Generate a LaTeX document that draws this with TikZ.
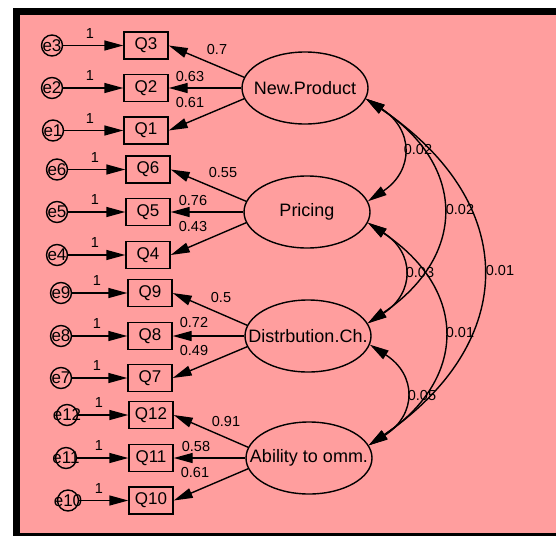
\documentclass[tikz,border=0pt]{standalone}
\usepackage{fontspec}
\setmainfont{Liberation Sans}
\usetikzlibrary{arrows.meta,shapes.geometric}
\definecolor{bgpink}{RGB}{255,158,158}
\begin{document}
\begin{tikzpicture}[x=1pt,y=-1pt,
 lat/.style={ellipse,draw,line width=1.4pt,minimum width=126pt,minimum height=72pt,inner sep=0pt},
 latlab/.style={font=\fontsize{18}{20}\selectfont,inner sep=0pt},
 obs/.style={rectangle,draw,line width=1.4pt,minimum width=44pt,minimum height=27pt,inner sep=0pt,font=\fontsize{17}{19}\selectfont},
 err/.style={circle,draw,line width=1.4pt,minimum size=21pt,inner sep=0pt},
 elab/.style={font=\fontsize{17}{19}\selectfont,inner sep=0pt},
 arr/.style={line width=1.4pt,-{Triangle[length=19pt,width=10pt]}},
 cov/.style={line width=1.4pt,{Triangle[length=19pt,width=10pt]}-{Triangle[length=19pt,width=10pt]}},
 lbl/.style={font=\fontsize{14.5}{16}\selectfont,inner sep=0pt},
 one/.style={font=\fontsize{14.5}{16}\selectfont,inner sep=0pt}]
\useasboundingbox (0,0) rectangle (556,536);
\fill[white] (0,0) rectangle (556,536);
\fill[black] (13,7.5) rectangle (556,536);
\fill[bgpink] (20,15) rectangle (556,533);

% latent variables
\node[lat,label={[latlab]center:New.Product}] (NP) at (305,88) {};
\node[lat,label={[latlab]center:Pricing}] (PR) at (307,212) {};
\node[lat,label={[latlab]center:Distrbution.Ch.}] (DC) at (308,336) {};
\node[lat,label={[latlab]center:Ability to omm.}] (AC) at (309,458) {};

% observed
\node[obs] (Q3) at (146,45.5) {Q3};
\node[obs] (Q2) at (146,88) {Q2};
\node[obs] (Q1) at (146,130.5) {Q1};
\node[obs] (Q6) at (148,169.5) {Q6};
\node[obs] (Q5) at (148,212) {Q5};
\node[obs] (Q4) at (148,255) {Q4};
\node[obs] (Q9) at (150,293) {Q9};
\node[obs] (Q8) at (150,336) {Q8};
\node[obs] (Q7) at (150,378) {Q7};
\node[obs] (Q12) at (151,415) {Q12};
\node[obs] (Q11) at (151,458) {Q11};
\node[obs] (Q10) at (151,500.5) {Q10};

% errors
\node[err,label={[elab]center:e3}] (e3) at (52,45.5) {};
\node[err,label={[elab]center:e2}] (e2) at (52,88) {};
\node[err,label={[elab]center:e1}] (e1) at (53,130.5) {};
\node[err,label={[elab]center:e6}] (e6) at (57,169.5) {};
\node[err,label={[elab]center:e5}] (e5) at (57,212) {};
\node[err,label={[elab]center:e4}] (e4) at (57,255) {};
\node[err,label={[elab]center:e9}] (e9) at (61,293) {};
\node[err,label={[elab]center:e8}] (e8) at (61,336) {};
\node[err,label={[elab]center:e7}] (e7) at (61,378) {};
\node[err,label={[elab]center:e12}] (e12) at (67,415) {};
\node[err,label={[elab]center:e11}] (e11) at (66,458) {};
\node[err,label={[elab]center:e10}] (e10) at (68,500.5) {};

% error arrows
\draw[arr] (e3) -- (Q3) node[one] at (90,33.5) {1};
\draw[arr] (e2) -- (Q2) node[one] at (90,76) {1};
\draw[arr] (e1) -- (Q1) node[one] at (90,118.5) {1};
\draw[arr] (e6) -- (Q6) node[one] at (95,157.5) {1};
\draw[arr] (e5) -- (Q5) node[one] at (95,200) {1};
\draw[arr] (e4) -- (Q4) node[one] at (95,243) {1};
\draw[arr] (e9) -- (Q9) node[one] at (97,281) {1};
\draw[arr] (e8) -- (Q8) node[one] at (97,324) {1};
\draw[arr] (e7) -- (Q7) node[one] at (97,366) {1};
\draw[arr] (e12) -- (Q12) node[one] at (99,403) {1};
\draw[arr] (e11) -- (Q11) node[one] at (99,446) {1};
\draw[arr] (e10) -- (Q10) node[one] at (99,488.5) {1};

% loadings
\draw[arr] (NP.170) -- (Q3.east) node[lbl] at (217,50) {0.7};
\draw[arr] (NP.west) -- (Q2.east) node[lbl] at (190,77) {0.63};
\draw[arr] (NP.190) -- (Q1.east) node[lbl] at (190,103) {0.61};
\draw[arr] (PR.170) -- (Q6.east) node[lbl] at (223,173) {0.55};
\draw[arr] (PR.west) -- (Q5.east) node[lbl] at (193,201) {0.76};
\draw[arr] (PR.190) -- (Q4.east) node[lbl] at (193,227) {0.43};
\draw[arr] (DC.170) -- (Q9.east) node[lbl] at (221,298) {0.5};
\draw[arr] (DC.west) -- (Q8.east) node[lbl] at (194,323) {0.72};
\draw[arr] (DC.190) -- (Q7.east) node[lbl] at (194,350) {0.49};
\draw[arr] (AC.170) -- (Q12.east) node[lbl] at (226,421) {0.91};
\draw[arr] (AC.west) -- (Q11.east) node[lbl] at (196,446) {0.58};
\draw[arr] (AC.190) -- (Q10.east) node[lbl] at (195,472) {0.61};

% covariances
\draw[cov] (NP.-10) .. controls (414,129.5) and (414,170.5) .. (PR.10) node[lbl] at (418,150) {0.02};
\draw[cov] (NP.-10) .. controls (467,166) and (467,256) .. (DC.12) node[lbl] at (460,210) {0.02};
\draw[cov] (NP.-10) .. controls (520,202.7) and (520,341.4) .. (AC.12) node[lbl] at (500,271) {0.01};
\draw[cov] (PR.-10) .. controls (415,253) and (415,293) .. (DC.12) node[lbl] at (420,273) {0.03};
\draw[cov] (PR.-10) .. controls (468,289.5) and (468,378.6) .. (AC.12) node[lbl] at (460,333) {0.01};
\draw[cov] (DC.-8) .. controls (417,374.8) and (417,415) .. (AC.12) node[lbl] at (422,395) {0.05};
\end{tikzpicture}
\end{document}
